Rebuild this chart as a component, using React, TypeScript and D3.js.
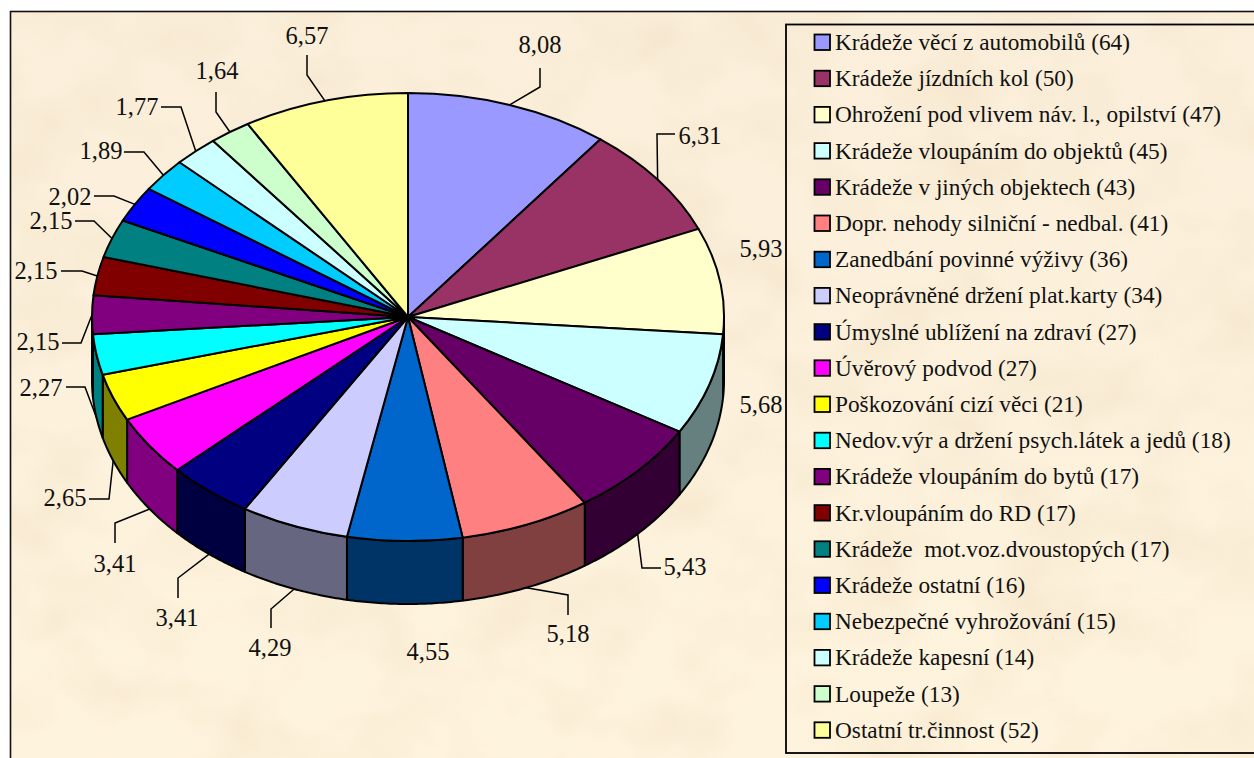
import React from "react";
import * as d3 from "d3";

const categories = [
  "Krádeže věcí z automobilů (64)",
  "Krádeže jízdních kol (50)",
  "Ohrožení pod vlivem náv. l., opilství (47)",
  "Krádeže vloupáním do objektů (45)",
  "Krádeže v jiných objektech (43)",
  "Dopr. nehody silniční - nedbal. (41)",
  "Zanedbání povinné výživy (36)",
  "Neoprávněné držení plat.karty (34)",
  "Úmyslné ublížení na zdraví (27)",
  "Úvěrový podvod (27)",
  "Poškozování cizí věci (21)",
  "Nedov.výr a držení psych.látek a jedů (18)",
  "Krádeže vloupáním do bytů (17)",
  "Kr.vloupáním do RD (17)",
  "Krádeže  mot.voz.dvoustopých (17)",
  "Krádeže ostatní (16)",
  "Nebezpečné vyhrožování (15)",
  "Krádeže kapesní (14)",
  "Loupeže (13)",
  "Ostatní tr.činnost (52)",
];
const counts = [64, 50, 47, 45, 43, 41, 36, 34, 27, 27, 21, 18, 17, 17, 17, 16, 15, 14, 13, 52];
const percentLabels = [
  "8,08", "6,31", "5,93", "5,68", "5,43", "5,18", "4,55", "4,29", "3,41", "3,41",
  "2,65", "2,27", "2,15", "2,15", "2,15", "2,02", "1,89", "1,77", "1,64", "6,57",
];
const colors = [
  "#9999FF", "#993366", "#FFFFCC", "#CCFFFF", "#660066", "#FF8080", "#0066CC", "#CCCCFF", "#000080", "#FF00FF",
  "#FFFF00", "#00FFFF", "#800080", "#800000", "#008080", "#0000FF", "#00CCFF", "#CCFFFF", "#CCFFCC", "#FFFF99",
];

// Layout only: label centre [x, y] and leader elbow points, in slice order.
const labelCentres: [number, number][] = [
  [540, 45], [700, 136], [761, 249], [761, 405], [685, 567], [568, 634], [428, 652], [270, 648], [177, 618], [115, 564],
  [65, 498], [41, 388], [38, 342], [36, 271], [51, 221], [70, 197], [101, 151], [137, 107], [217, 71], [307, 36],
];
const leaderElbows: ([number, number][] | null)[] = [
  [[540, 68], [540, 87]],
  [[675, 134], [657, 134]],
  null,
  null,
  [[661, 568], [642, 568]],
  [[568, 615], [568, 595]],
  null,
  [[271, 628], [271, 609]],
  [[178, 598], [178, 578]],
  [[115, 543], [115, 523]],
  [[89, 499], [109, 499]],
  [[66, 387], [85, 387]],
  [[62, 343], [81, 343]],
  [[61, 271], [82, 271]],
  [[75, 221], [94, 221]],
  [[94, 196], [114, 196]],
  [[124, 152], [144, 152]],
  [[161, 107], [181, 107]],
  [[216, 92], [216, 112]],
  [[307, 55], [307, 75]],
];

const W = 1254;
const H = 758;
const cx = 408;
const cy = 317;
const rx = 316;
const ry = 224;
const depth = 63;
const unit = 100;
const legendTop = 42;
const legendStep = 36.2;

const project = (a: number): [number, number] => [cx + rx * Math.sin(a), cy - ry * Math.cos(a)];
const isFront = (a: number) => {
  const t = ((a % (2 * Math.PI)) + 2 * Math.PI) % (2 * Math.PI);
  return t > Math.PI / 2 && t < (3 * Math.PI) / 2;
};
const darken = (c: string) => {
  const r = d3.rgb(c);
  return d3.rgb(Math.ceil(r.r / 2), Math.ceil(r.g / 2), Math.ceil(r.b / 2)).formatHex();
};

export default function App() {
  const pie = d3.pie<number>().sort(null).value((d) => d)(counts);
  const arc = d3.arc<d3.PieArcDatum<number>>().innerRadius(0).outerRadius(unit);
  const line = d3.line();
  const legendY = d3.scaleLinear().domain([0, 1]).range([legendTop, legendTop + legendStep]);
  const lo = Math.PI / 2;
  const hi = (3 * Math.PI) / 2;

  const walls = pie
    .map((s, i) => {
      const a0 = Math.max(s.startAngle, lo);
      const a1 = Math.min(s.endAngle, hi);
      if (a1 <= a0) return null;
      const steps = d3.range(0, 41).map((k) => a0 + ((a1 - a0) * k) / 40);
      const top = steps.map(project);
      const bottom = top.map(([x, y]) => [x, y + depth] as [number, number]).reverse();
      return { i, d: line([...top, ...bottom]) + "Z" };
    })
    .filter(Boolean) as { i: number; d: string }[];

  const textFont = "'Liberation Serif', 'Times New Roman', serif";

  return (
    <svg
      width={W}
      height={H}
      viewBox={`0 0 ${W} ${H}`}
      style={{ position: "absolute", left: 0, top: 0, display: "block", background: "#fff" }}
    >
      <defs>
        <filter id="parchment" x="0" y="0" width="100%" height="100%" colorInterpolationFilters="sRGB">
          <feTurbulence type="fractalNoise" baseFrequency="0.011 0.014" numOctaves={3} seed={7} />
          <feColorMatrix
            type="matrix"
            values="0 0 0 0 0.93  0 0 0 0 0.85  0 0 0 0 0.72  2.4 0 0 0 -1.0"
          />
        </filter>
        <linearGradient id="tone" x1="0" y1="0" x2="0" y2="1">
          <stop offset="0" stopColor="#FBEFDB" />
          <stop offset="1" stopColor="#FEF3DD" />
        </linearGradient>
      </defs>

      <rect x={10.5} y={11.5} width={W} height={H} fill="url(#tone)" />
      <rect x={11} y={12} width={W} height={H} filter="url(#parchment)" opacity={0.3} />
      <rect x={10.5} y={11.5} width={W} height={H} fill="none" stroke="#111" strokeWidth={1.6} />

      <rect x={786} y={24.5} width={W} height={728.5} fill="none" stroke="#000" strokeWidth={1.8} />

      <g stroke="#000" strokeWidth={2} strokeLinejoin="round">
        {walls.map((w) => (
          <path key={w.i} d={w.d} fill={darken(colors[w.i])} />
        ))}
      </g>

      <g transform={`translate(${cx},${cy}) scale(${rx / unit},${ry / unit})`}>
        {pie.map((s, i) => (
          <path
            key={i}
            d={arc(s) as string}
            fill={colors[i]}
            stroke="#000"
            strokeWidth={2}
            strokeLinejoin="round"
            vectorEffect="non-scaling-stroke"
          />
        ))}
      </g>

      <g fill="none" stroke="#000" strokeWidth={1.5}>
        {pie.map((s, i) => {
          const elbow = leaderElbows[i];
          if (!elbow) return null;
          const mid = (s.startAngle + s.endAngle) / 2;
          const [x, y] = project(mid);
          const start: [number, number] = [x, isFront(mid) ? y + depth : y];
          return <path key={i} d={line([...elbow, start]) as string} />;
        })}
      </g>

      <g fontFamily={textFont} fontSize={24.5} fill="#111" textAnchor="middle">
        {percentLabels.map((t, i) => (
          <text key={i} x={labelCentres[i][0]} y={labelCentres[i][1]} dy="0.33em">
            {t}
          </text>
        ))}
      </g>

      <g fontFamily={textFont} fontSize={23.3} fill="#111">
        {categories.map((c, i) => (
          <g key={i} transform={`translate(0,${legendY(i)})`}>
            <rect x={814.5} y={-7.5} width={15.5} height={15.5} fill={colors[i]} stroke="#000" strokeWidth={1.8} />
            <text x={835} y={0} dy="0.34em" style={{ whiteSpace: "pre" }}>
              {c}
            </text>
          </g>
        ))}
      </g>
    </svg>
  );
}
